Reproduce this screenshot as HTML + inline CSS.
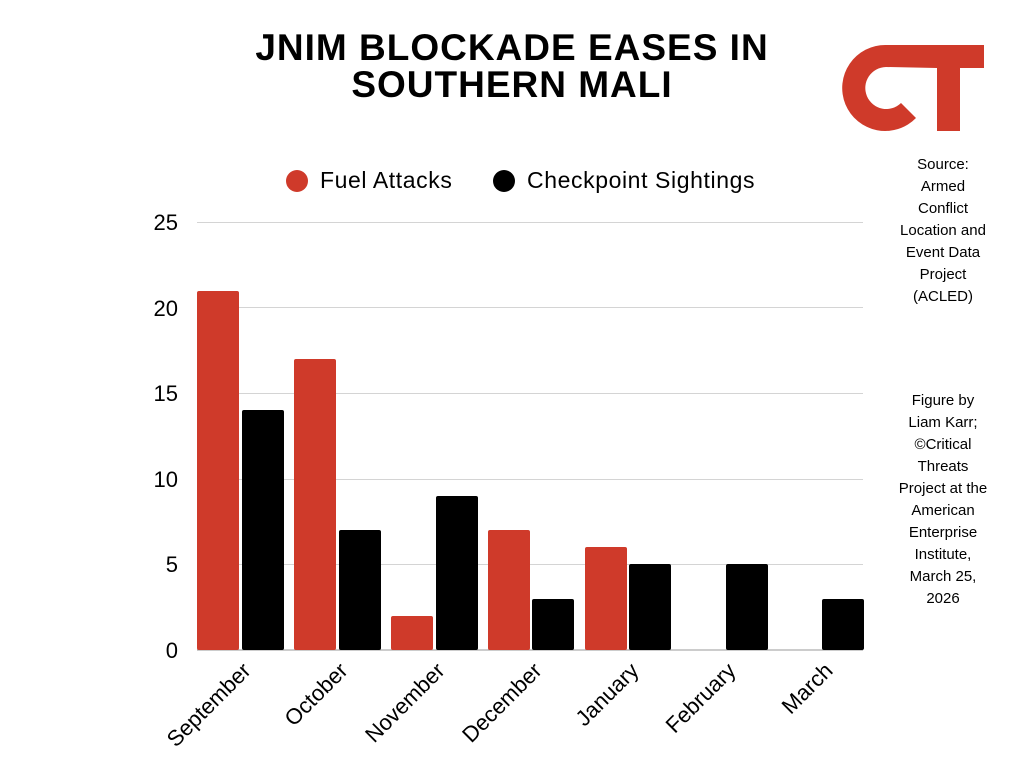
<!DOCTYPE html>
<html><head><meta charset="utf-8"><style>
body{margin:0;background:#fff;}
svg text{font-family:"Liberation Sans",sans-serif;}
</style></head><body>
<svg width="1024" height="768" xmlns="http://www.w3.org/2000/svg">
<rect width="1024" height="768" fill="#fff"/>
<text x="512" y="60" text-anchor="middle" font-size="37" font-weight="bold" letter-spacing="1" fill="#000">JNIM BLOCKADE EASES IN</text>
<text x="512" y="97" text-anchor="middle" font-size="37" font-weight="bold" letter-spacing="1" fill="#000">SOUTHERN MALI</text>
<path d="M886,45 L984,45 L984,68 L960,68 L960,131 L937,131 L937,68 L886,67 A21 21 0 1 0 901,103 L916,118 A43 43 0 1 1 886,45 Z" fill="#cf3a2a"/>
<circle cx="297" cy="181" r="11" fill="#cf3a2a"/>
<text x="320" y="188" font-size="23" letter-spacing="0.6" fill="#000">Fuel Attacks</text>
<circle cx="504" cy="181" r="11" fill="#000"/>
<text x="527" y="188" font-size="23" letter-spacing="0.6" fill="#000">Checkpoint Sightings</text>
<g stroke="#d4d4d4" stroke-width="1">
<line x1="197" y1="222.5" x2="863" y2="222.5"/>
<line x1="197" y1="307.5" x2="863" y2="307.5"/>
<line x1="197" y1="393.5" x2="863" y2="393.5"/>
<line x1="197" y1="479.5" x2="863" y2="479.5"/>
<line x1="197" y1="564.5" x2="863" y2="564.5"/>
</g>
<line x1="197" y1="650" x2="863" y2="650" stroke="#999" stroke-width="1"/>
<g font-size="22" text-anchor="end" fill="#000">
<text x="178" y="230">25</text><text x="178" y="316">20</text><text x="178" y="401">15</text>
<text x="178" y="487">10</text><text x="178" y="572">5</text><text x="178" y="658">0</text>
</g>
<g fill="#cf3a2a">
<rect x="197" y="291" width="42" height="359" rx="2"/>
<rect x="294" y="359" width="42" height="291" rx="2"/>
<rect x="391" y="616" width="42" height="34" rx="2"/>
<rect x="488" y="530" width="42" height="120" rx="2"/>
<rect x="585" y="547" width="42" height="103" rx="2"/>
</g>
<g fill="#000">
<rect x="242" y="410" width="42" height="240" rx="2"/>
<rect x="339" y="530" width="42" height="120" rx="2"/>
<rect x="436" y="496" width="42" height="154" rx="2"/>
<rect x="532" y="599" width="42" height="51" rx="2"/>
<rect x="629" y="564" width="42" height="86" rx="2"/>
<rect x="726" y="564" width="42" height="86" rx="2"/>
<rect x="822" y="599" width="42" height="51" rx="2"/>
</g>
<g font-size="22" text-anchor="end" fill="#000">
<text transform="translate(252,672) rotate(-45)">September</text>
<text transform="translate(349,672) rotate(-45)">October</text>
<text transform="translate(446,672) rotate(-45)">November</text>
<text transform="translate(543,672) rotate(-45)">December</text>
<text transform="translate(640,672) rotate(-45)">January</text>
<text transform="translate(737,672) rotate(-45)">February</text>
<text transform="translate(834,672) rotate(-45)">March</text>
</g>
<g font-size="15" text-anchor="middle" fill="#000">
<text x="943" y="169">Source:</text><text x="943" y="191">Armed</text><text x="943" y="213">Conflict</text>
<text x="943" y="235">Location and</text><text x="943" y="257">Event Data</text><text x="943" y="279">Project</text>
<text x="943" y="301">(ACLED)</text>
<text x="943" y="405">Figure by</text><text x="943" y="427">Liam Karr;</text><text x="943" y="449">©Critical</text>
<text x="943" y="471">Threats</text><text x="943" y="493">Project at the</text><text x="943" y="515">American</text>
<text x="943" y="537">Enterprise</text><text x="943" y="559">Institute,</text><text x="943" y="581">March 25,</text>
<text x="943" y="603">2026</text>
</g>
</svg>
</body></html>
